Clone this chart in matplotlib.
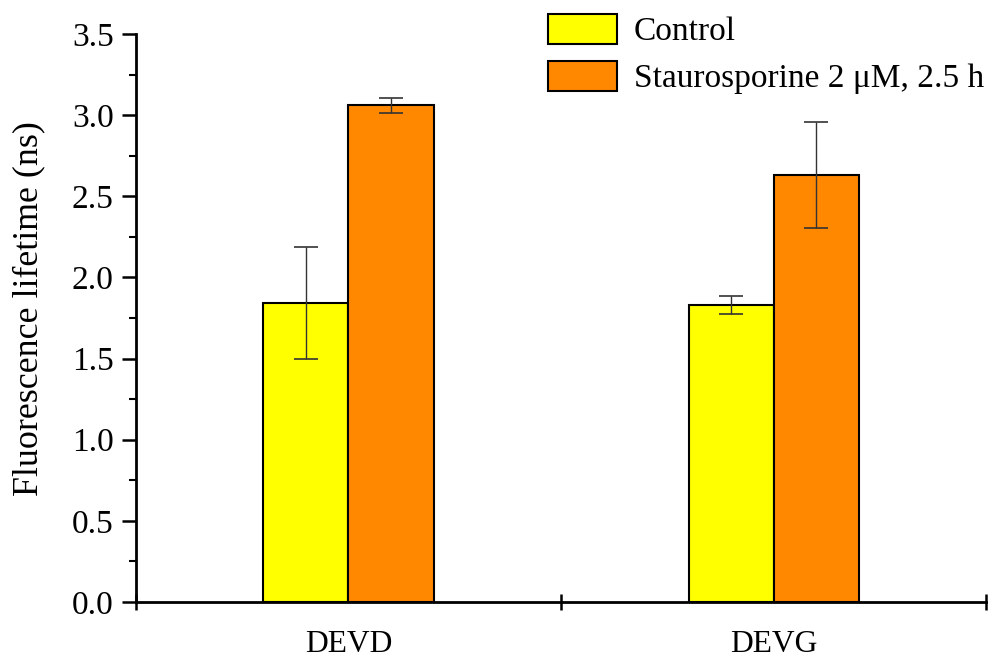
import numpy as np
import matplotlib.pyplot as plt
from matplotlib.ticker import MultipleLocator, FixedLocator, NullFormatter

# --- data ---
groups = ["DEVD", "DEVG"]
series = ["Control", "Staurosporine 2 \u03bcM, 2.5 h"]
control = [1.84, 1.83]
control_err = [0.345, 0.055]
stauro = [3.06, 2.63]
stauro_err = [0.045, 0.325]
colors = ["#ffff00", "#ff8800"]

plt.rcParams['font.family'] = ['Liberation Serif', 'DejaVu Serif']
fs = 24

fig = plt.figure(figsize=(9.89, 6.59), dpi=100)
ax = fig.add_axes([0.1375, 0.0865, 0.8595, 0.8619])

x = np.array([1, 3])
w = 0.4
err_kw = dict(ecolor='#333333', elinewidth=1.0, capsize=8.5, capthick=1.2)
ax.bar(x - w / 2, control, w, yerr=control_err, color=colors[0], edgecolor='black',
       linewidth=1.5, label=series[0], error_kw=err_kw)
ax.bar(x + w / 2, stauro, w, yerr=stauro_err, color=colors[1], edgecolor='black',
       linewidth=1.5, label=series[1], error_kw=err_kw)

ax.set_xlim(0, 4)
ax.set_ylim(0, 3.5)
ax.xaxis.set_major_locator(FixedLocator([0, 2, 4]))
ax.xaxis.set_major_formatter(NullFormatter())
ax.xaxis.set_minor_locator(FixedLocator(x))
ax.set_xticklabels(groups, minor=True)
ax.tick_params(axis='x', which='major', direction='inout', length=12, width=1.8)
ax.tick_params(axis='x', which='minor', length=0, pad=20, labelsize=22.7)

ax.yaxis.set_major_locator(MultipleLocator(0.5))
ax.yaxis.set_minor_locator(MultipleLocator(0.25))
ax.yaxis.set_major_formatter(plt.FuncFormatter(lambda v, p: f"{v:.1f}"))
ax.tick_params(axis='y', which='major', direction='out', length=10, width=1.8, labelsize=fs, pad=6)
ax.tick_params(axis='y', which='minor', direction='out', length=5, width=1.5)

for s in ['top', 'right']:
    ax.spines[s].set_visible(False)
for s in ['left', 'bottom']:
    ax.spines[s].set_linewidth(2)

ax.set_ylabel("Fluorescence lifetime (ns)", fontsize=25.8, labelpad=19)
ax.yaxis.label.set_y(0.517)

ax.legend(loc='upper left', bbox_to_anchor=(548 / 989, 1 - 14 / 659),
          bbox_transform=fig.transFigure, frameon=False, fontsize=fs,
          handlelength=2.07, handleheight=1.0, handletextpad=0.5,
          labelspacing=0.4, borderpad=0, borderaxespad=0)

fig.savefig("out.png", dpi=100)
